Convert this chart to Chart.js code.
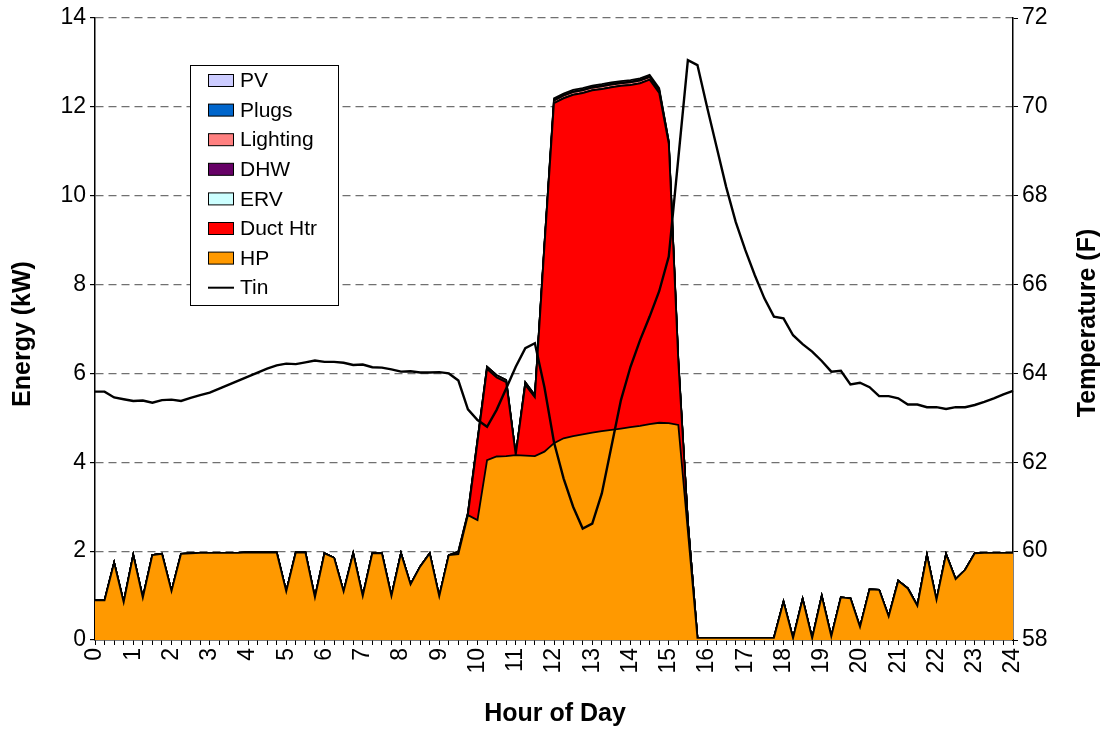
<!DOCTYPE html>
<html>
<head>
<meta charset="utf-8">
<script src="https://cdn.jsdelivr.net/npm/chart.js@4.4.1/dist/chart.umd.min.js"></script>
<style>
  html, body { margin: 0; padding: 0; background: #fff; }
  #wrap { width: 1106px; height: 732px; }
</style>
</head>
<body>
<div id="wrap"><canvas id="mainChart" width="1106" height="732"></canvas></div>
<script>
// 15-minute samples, hour 0 .. 24
const quarterLabels = Array.from({ length: 97 }, (_, i) => String(i / 4));

const hpKw = [
  0.89, 0.89, 1.74, 0.85, 1.91, 0.95, 1.91, 1.94, 1.10, 1.94,
  1.95, 1.96, 1.96, 1.96, 1.96, 1.96, 1.97, 1.97, 1.97, 1.97,
  1.09, 1.97, 1.97, 0.96, 1.95, 1.85, 1.09, 1.95, 0.99, 1.95,
  1.95, 0.99, 1.95, 1.25, 1.65, 1.95, 0.98, 1.91, 1.93, 2.81,
  2.70, 4.05, 4.13, 4.14, 4.16, 4.15, 4.14, 4.24, 4.43, 4.54,
  4.59, 4.63, 4.67, 4.70, 4.73, 4.76, 4.79, 4.82, 4.86, 4.89,
  4.88, 4.84, 2.45, 0.05, 0.05, 0.05, 0.05, 0.05, 0.05, 0.05,
  0.05, 0.05, 0.86, 0.04, 0.92, 0.04, 0.99, 0.08, 0.96, 0.94,
  0.29, 1.14, 1.13, 0.53, 1.33, 1.16, 0.77, 1.91, 0.90, 1.93,
  1.37, 1.58, 1.95, 1.96, 1.96, 1.96, 1.96
];

const ductKw = [
  0, 0, 0, 0, 0, 0, 0, 0, 0, 0,
  0, 0, 0, 0, 0, 0, 0, 0, 0, 0,
  0, 0, 0, 0, 0, 0, 0, 0, 0, 0,
  0, 0, 0, 0, 0, 0, 0, 0, 0, 0,
  1.75, 2.05, 1.78, 1.66, 0, 1.59, 1.32, 4.60, 7.65, 7.65,
  7.68, 7.68, 7.70, 7.70, 7.71, 7.71, 7.70, 7.71, 7.75, 7.42,
  6.29, 1.41, 0.20, 0, 0, 0, 0, 0, 0, 0,
  0, 0, 0, 0, 0, 0, 0, 0, 0, 0,
  0, 0, 0, 0, 0, 0, 0, 0, 0, 0,
  0, 0, 0, 0, 0, 0, 0
];

const ervKw = new Array(97).fill(0);
const dhwKw = new Array(97).fill(0);

const lightingKw = [
  0, 0, 0, 0, 0, 0, 0, 0, 0, 0,
  0, 0, 0, 0, 0, 0, 0, 0, 0, 0,
  0, 0, 0, 0, 0, 0, 0, 0, 0, 0,
  0, 0, 0, 0, 0, 0, 0, 0, 0.06, 0.05,
  0.05, 0.05, 0.05, 0.05, 0, 0.06, 0.05, 0.06, 0.06, 0.06,
  0.06, 0.06, 0.06, 0.06, 0.06, 0.06, 0.06, 0.06, 0.06, 0.06,
  0.05, 0.05, 0, 0, 0, 0, 0, 0, 0, 0,
  0, 0, 0, 0, 0, 0, 0, 0, 0, 0,
  0, 0, 0, 0, 0, 0, 0, 0, 0, 0,
  0, 0, 0, 0, 0, 0, 0
];

const plugsKw = [
  0, 0, 0, 0, 0, 0, 0, 0, 0, 0,
  0, 0, 0, 0, 0, 0, 0, 0, 0, 0,
  0, 0, 0, 0, 0, 0, 0, 0, 0, 0,
  0, 0, 0, 0, 0, 0, 0, 0, 0, 0,
  0, 0, 0, 0, 0, 0, 0, 0, 0.02, 0.02,
  0.02, 0.02, 0.02, 0.02, 0.02, 0.02, 0.02, 0.02, 0.02, 0.02,
  0, 0, 0, 0, 0, 0, 0, 0, 0, 0,
  0, 0, 0, 0, 0, 0, 0, 0, 0, 0,
  0, 0, 0, 0, 0, 0, 0, 0, 0, 0,
  0, 0, 0, 0, 0, 0, 0
];

const pvKw = [
  0, 0, 0, 0, 0, 0, 0, 0, 0, 0,
  0, 0, 0, 0, 0, 0, 0, 0, 0, 0,
  0, 0, 0, 0, 0, 0, 0, 0, 0, 0,
  0, 0, 0, 0, 0, 0, 0, 0, 0, 0,
  0, 0, 0, 0, 0, 0, 0, 0, 0.03, 0.03,
  0.03, 0.03, 0.03, 0.03, 0.03, 0.03, 0.03, 0.03, 0.03, 0.03,
  0, 0, 0, 0, 0, 0, 0, 0, 0, 0,
  0, 0, 0, 0, 0, 0, 0, 0, 0, 0,
  0, 0, 0, 0, 0, 0, 0, 0, 0, 0,
  0, 0, 0, 0, 0, 0, 0
];

const tinF = [
  63.59, 63.59, 63.46, 63.42, 63.38, 63.39, 63.34, 63.40, 63.41, 63.38,
  63.45, 63.51, 63.57, 63.66, 63.75, 63.84, 63.93, 64.02, 64.11, 64.18,
  64.22, 64.21, 64.25, 64.29, 64.26, 64.26, 64.24, 64.19, 64.20, 64.14,
  64.13, 64.09, 64.04, 64.05, 64.02, 64.02, 64.03, 64.00, 63.84, 63.19,
  62.95, 62.80, 63.18, 63.66, 64.15, 64.57, 64.68, 63.69, 62.45, 61.64,
  61.00, 60.51, 60.62, 61.30, 62.35, 63.40, 64.15, 64.75, 65.28, 65.85,
  66.63, 68.84, 71.05, 70.94, 70.00, 69.10, 68.20, 67.41, 66.78, 66.21,
  65.69, 65.28, 65.24, 64.86, 64.66, 64.49, 64.28, 64.04, 64.06, 63.75,
  63.79, 63.69, 63.49, 63.49, 63.44, 63.30, 63.30, 63.24, 63.24, 63.20,
  63.24, 63.24, 63.29, 63.36, 63.44, 63.53, 63.61
];

const FONT = '"Liberation Sans", Arial, sans-serif';

// stacked from the bottom up, like the spreadsheet
const areaSeries = [
  { label: "HP", data: hpKw, color: "#FF9900" },
  { label: "Duct Htr", data: ductKw, color: "#FF0000" },
  { label: "ERV", data: ervKw, color: "#CCFFFF" },
  { label: "DHW", data: dhwKw, color: "#660066" },
  { label: "Lighting", data: lightingKw, color: "#FF8080" },
  { label: "Plugs", data: plugsKw, color: "#0066CC" },
  { label: "PV", data: pvKw, color: "#CCCCFF" },
];

const datasets = areaSeries.map((s, i) => ({
  type: "line",
  label: s.label,
  data: s.data,
  yAxisID: "y",
  backgroundColor: s.color,
  borderColor: "#000",
  borderWidth: 1.8,
  pointRadius: 0,
  tension: 0,
  fill: i === 0 ? "origin" : "-1",
  order: 1,
}));

datasets.push({
  type: "line",
  label: "Tin",
  data: tinF,
  yAxisID: "y2",
  borderColor: "#000",
  backgroundColor: "#000",
  borderWidth: 2.4,
  pointRadius: 0,
  tension: 0,
  fill: false,
  order: -1,
});

// axis titles and the boxed legend inside the plot
const overlay = {
  id: "overlay",
  afterDraw(chart) {
    const { ctx, chartArea: a } = chart;
    const midY = (a.top + a.bottom) / 2;
    ctx.save();
    ctx.fillStyle = "#000";
    ctx.font = `bold 25px ${FONT}`;
    ctx.textAlign = "center";
    ctx.textBaseline = "middle";
    ctx.fillText("Hour of Day", (a.left + a.right) / 2 + 1, 714);

    ctx.save();
    ctx.translate(23, midY + 5);
    ctx.rotate(-Math.PI / 2);
    ctx.fillText("Energy (kW)", 0, 0);
    ctx.restore();

    ctx.save();
    ctx.translate(1088, midY - 6);
    ctx.rotate(-Math.PI / 2);
    ctx.fillText("Temperature (F)", 0, 0);
    ctx.restore();

    // legend
    const lx = 190.5, ly = 65.5, lw = 148, lh = 240;
    ctx.fillStyle = "#fff";
    ctx.fillRect(lx, ly, lw, lh);
    ctx.strokeStyle = "#000";
    ctx.lineWidth = 1;
    ctx.strokeRect(lx, ly, lw, lh);

    const items = [...areaSeries].reverse();
    ctx.font = `21px ${FONT}`;
    ctx.textAlign = "left";
    const rowH = 29.6;
    items.forEach((s, i) => {
      const cy = ly + 15 + i * rowH;
      ctx.fillStyle = s.color;
      ctx.fillRect(208.5, cy - 6, 25, 12);
      ctx.strokeStyle = "#000";
      ctx.strokeRect(208.5, cy - 6, 25, 12);
      ctx.fillStyle = "#000";
      ctx.fillText(s.label, 240, cy + 1);
    });
    const ty = ly + 15 + items.length * rowH;
    ctx.beginPath();
    ctx.moveTo(208, ty);
    ctx.lineTo(234, ty);
    ctx.lineWidth = 2;
    ctx.stroke();
    ctx.fillText("Tin", 240, ty + 1);
    ctx.restore();
  },
};

const ctx = document.getElementById("mainChart").getContext("2d");
new Chart(ctx, {
  data: { labels: quarterLabels, datasets },
  options: {
    responsive: false,
    animation: false,
    devicePixelRatio: 1,
    layout: { padding: { top: 18, left: 0, right: 0, bottom: 0 } },
    plugins: {
      legend: { display: false },
      tooltip: { enabled: false },
    },
    scales: {
      x: {
        type: "category",
        offset: false,
        afterFit: (s) => { s.height = 92; },
        grid: {
          drawOnChartArea: false,
          drawTicks: true,
          tickLength: 5,
          tickColor: "#000",
          tickWidth: 1,
        },
        border: { display: true, color: "#000", width: 1.5 },
        ticks: {
          autoSkip: false,
          minRotation: 90,
          maxRotation: 90,
          padding: 3,
          color: "#000",
          font: { family: FONT, size: 23 },
          callback: (v, i) => (i % 4 === 0 ? String(i / 4) : ""),
        },
      },
      y: {
        type: "linear",
        position: "left",
        stacked: true,
        min: 0,
        max: 14,
        afterFit: (s) => { s.width = 95; },
        grid: {
          color: (c) => (c.tick && c.tick.value === 0 ? "rgba(0,0,0,0)" : "#707070"),
          lineWidth: 1.2,
          drawTicks: true,
          tickLength: 5,
          tickColor: "#000",
          tickBorderDash: [],
        },
        border: { display: true, color: "#000", width: 1.5, dash: [8, 5] },
        ticks: {
          stepSize: 2,
          padding: 4,
          color: "#000",
          font: { family: FONT, size: 23 },
        },
      },
      y2: {
        type: "linear",
        position: "right",
        stacked: false,
        min: 58,
        max: 72,
        afterFit: (s) => { s.width = 93; },
        grid: {
          drawOnChartArea: false,
          drawTicks: true,
          tickLength: 5,
          tickColor: "#000",
        },
        border: { display: true, color: "#000", width: 1.5 },
        ticks: {
          stepSize: 2,
          padding: 4,
          color: "#000",
          font: { family: FONT, size: 23 },
        },
      },
    },
  },
  plugins: [overlay],
});
</script>
</body>
</html>
